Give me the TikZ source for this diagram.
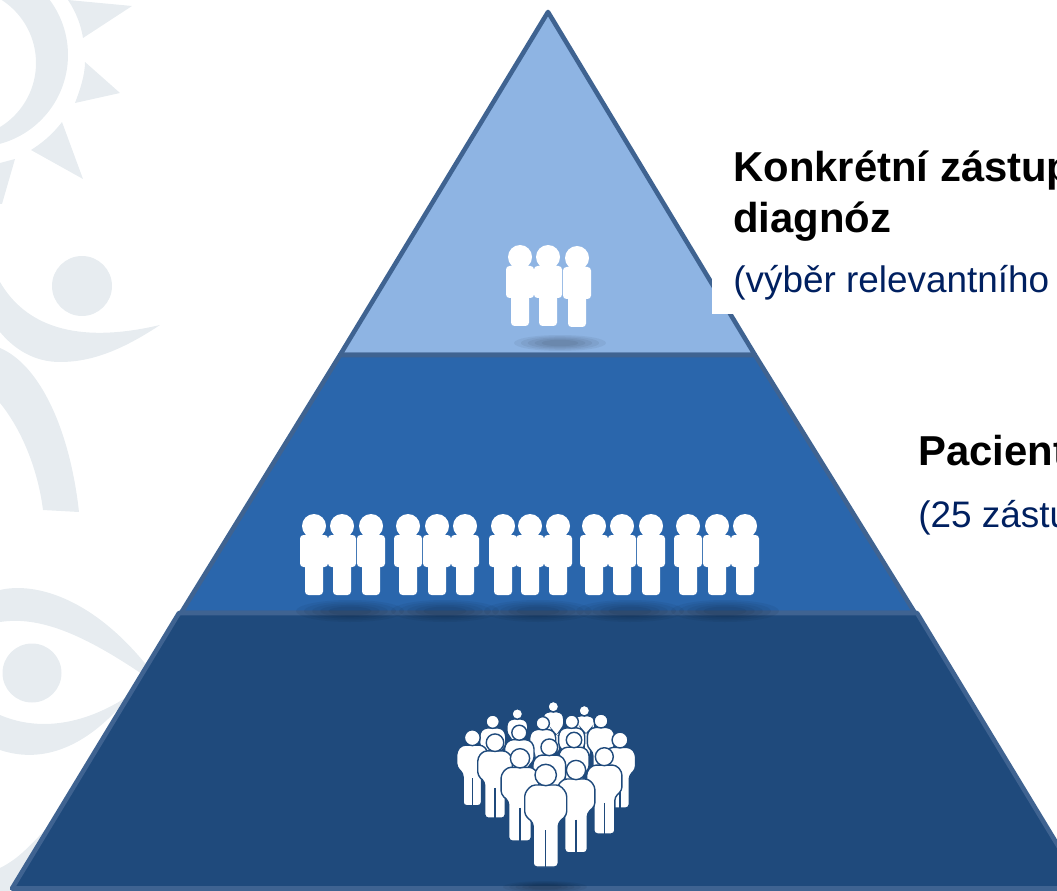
\documentclass[tikz,border=0pt]{standalone}
\usepackage{fontspec}
\setmainfont{Liberation Sans}
\definecolor{tiertop}{HTML}{8EB4E3}
\definecolor{tiermid}{HTML}{2A66AC}
\definecolor{tierlow}{HTML}{1F4A7C}
\definecolor{tierline}{HTML}{3F6391}
\definecolor{logogrey}{HTML}{E7ECF0}
\definecolor{subnavy}{HTML}{002060}
\tikzset{
  tier/.style={draw=tierline, line width=2.6pt, line join=round},
  logo/.style={fill=logogrey, draw=none},
  heading/.style={anchor=base west, inner sep=0pt, font=\fontsize{23.8}{28}\selectfont\bfseries},
  subheading/.style={anchor=base west, inner sep=0pt, text=subnavy, font=\fontsize{21}{25}\selectfont}
}
\newcommand{\rowperson}[2]{
  \fill[white] (#1,#2) circle (12);
  \fill[white, rounded corners=2pt] (#1-14,#2+9) rectangle (#1+14,#2+41);
  \fill[white, rounded corners=2pt] (#1-9,#2+35) rectangle (#1+9,#2+69);
}
\newcommand{\crowdperson}[3]{
  \begin{scope}[shift={(#1,#2)}, scale=#3]
    \filldraw[fill=white, draw=tierlow, line width=0.8pt, rounded corners=2pt]
      (-12.5,92) -- (-12.5,48) -- (-21,40) -- (-21,18) -- (-14,10) -- (14,10)
      -- (21,18) -- (21,40) -- (12.5,48) -- (12.5,92) -- cycle;
    \draw[tierlow, line width=0.7pt] (0,55) -- (0,92);
    \filldraw[fill=white, draw=tierlow, line width=0.8pt] (0,0) circle (10.7);
  \end{scope}
}
\newcommand{\softshadow}[4]{
  \foreach \k in {1,0.85,0.7,0.55,0.4}
    \fill[black, opacity=0.05] (#1,#2) ellipse [x radius={\k*#3}, y radius={\k*#4}];
}

\begin{document}
\begin{tikzpicture}[x=0.02cm, y=-0.02cm]
  \useasboundingbox (0,0) rectangle (1057,891);
  \clip (0,0) rectangle (1057,891);

  % sun
  \fill[logo, even odd rule] (-24,55) circle (92) (-39,63) circle (75);
  \fill[logo] (68,0) -- (132,6) -- (83,38) .. controls (81,25) and (76,12) .. (68,0) -- cycle;
  \fill[logo] (85,62) -- (120,93) -- (75,103) .. controls (80,90) and (85,75) .. (85,62) -- cycle;
  \fill[logo] (62,122) -- (83,179) -- (31,150) .. controls (42,143) and (52,135) .. (62,122) -- cycle;
  \fill[logo] (15,159) -- (2,204) -- (0,204) -- (0,163) -- cycle;

  % figure with raised arms
  \fill[logo] (82,286) circle (30);
  \fill[logo] (0,282) .. controls (25,325) and (75,345) .. (160,325)
    .. controls (115,355) and (85,362) .. (60,362) .. controls (35,362) and (15,350) .. (0,332) -- cycle;
  \fill[logo] (0,348) .. controls (40,365) and (70,430) .. (79,512) -- (43,510)
    .. controls (38,470) and (22,430) .. (0,403) -- cycle;

  % eye
  \fill[logo] (32,673) circle (29.5);
  \fill[logo] (0,590) .. controls (33,582) and (100,595) .. (165,690)
    .. controls (95,640) and (45,615) .. (0,622) -- cycle;
  \fill[logo] (0,715) .. controls (35,730) and (80,728) .. (130,695)
    .. controls (90,745) and (45,765) .. (0,750) -- cycle;
  \fill[logo] (0,868) .. controls (20,858) and (30,845) .. (50,825) -- (10,891) -- (0,891) -- cycle;

  % pyramid
  \filldraw[tier, fill=tiertop] (548,12) -- (755,355) -- (340,355) -- cycle;
  \filldraw[tier, fill=tiermid] (340,355) -- (755,355) -- (915,613) -- (181,613) -- cycle;
  \filldraw[tier, fill=tierlow] (179,613) -- (917,613) -- (1084,888.5) -- (12,888.5) -- cycle;

  % shadows
  \softshadow{560}{343}{46}{8}
  \foreach \gx in {350,445,538,630,725} {
    \softshadow{\gx}{611}{54}{11}
  }
  \softshadow{545}{887}{42}{6}

  % people
  \foreach \px/\py in {520/257,548/257,577/258} {
    \rowperson{\px}{\py}
  }
  \foreach \px in {314,342,371,408,437,465,503,530,558,594,622,651,688,717,745} {
    \rowperson{\px}{526}
  }
  \foreach \px/\py/\ps in {553.3/706.7/0.5,584.3/710.7/0.5,517.3/714/0.5,492.7/721.7/0.62,
    542.7/723.3/0.62,571.7/721.7/0.62,601/721/0.65,472.3/737.7/0.74,519.3/732.7/0.7,
    574/740/0.72,620/740/0.74,495/742.7/0.82,549.3/747.3/0.78,520/758.3/0.9,
    604.3/756.7/0.84,576/770/0.9,545.7/775/1} {
    \crowdperson{\px}{\py}{\ps}
  }

  % labels
  \fill[white] (712,145) rectangle (1057,314);
  \node (konkretni) [heading] at (733,182) {Konkrétní zástup};
  \node (diagnoz) [heading] at (733,233) {diagnóz};
  \node (vyber) [subheading] at (733,293) {(výběr relevantního};
  \node (pacient) [heading] at (918,465) {Pacient};
  \node (zastu) [subheading] at (918,527) {(25 zástu};
\end{tikzpicture}
\end{document}
